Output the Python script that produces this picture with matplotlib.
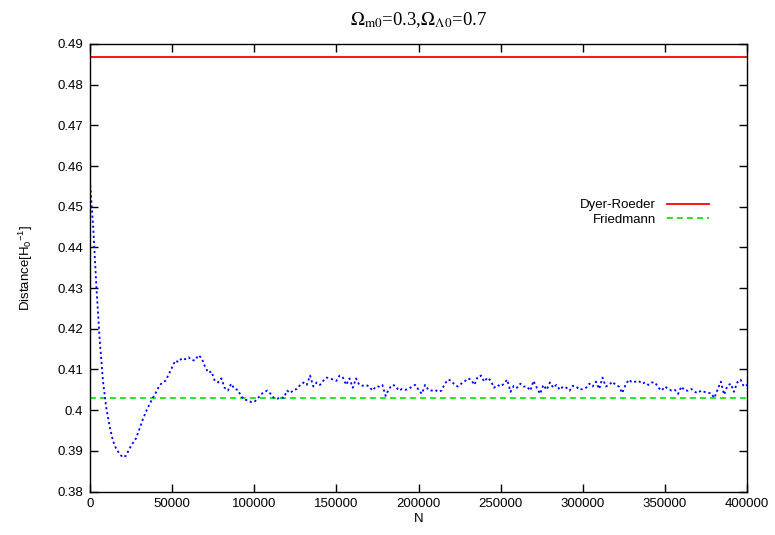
import matplotlib
matplotlib.use("Agg")
import matplotlib.pyplot as plt
import numpy as np

# ---- data ----
n_step = 2000
distance = [
    0.4565, 0.4450, 0.4300, 0.4170, 0.4070, 0.4005, 0.3960, 0.3925, 0.3905, 0.3893,
    0.3884, 0.3888, 0.3905, 0.3918, 0.3930, 0.3952, 0.3975, 0.3995, 0.4012, 0.4028,
    0.4042, 0.4058, 0.4068, 0.4072, 0.4088, 0.4105, 0.4122, 0.4118, 0.4128, 0.4125,
    0.4130, 0.4123, 0.4122, 0.4135, 0.4128, 0.4108, 0.4092, 0.4095, 0.4072, 0.4068,
    0.4078, 0.4055, 0.4048, 0.4065, 0.4052, 0.4050, 0.4035, 0.4025, 0.4025, 0.4020,
    0.4020, 0.4028, 0.4038, 0.4045, 0.4048, 0.4040, 0.4030, 0.4028, 0.4032, 0.4030,
    0.4048, 0.4042, 0.4050, 0.4052, 0.4062, 0.4068, 0.4062, 0.4085, 0.4058, 0.4068,
    0.4062, 0.4072, 0.4080, 0.4078, 0.4075, 0.4072, 0.4085, 0.4080, 0.4062, 0.4078,
    0.4055, 0.4078, 0.4062, 0.4060, 0.4062, 0.4058, 0.4048, 0.4058, 0.4058, 0.4062,
    0.4035, 0.4052, 0.4062, 0.4060, 0.4048, 0.4052, 0.4050, 0.4052, 0.4058, 0.4062,
    0.4050, 0.4040, 0.4062, 0.4050, 0.4048, 0.4050, 0.4045, 0.4048, 0.4065, 0.4075,
    0.4072, 0.4062, 0.4058, 0.4065, 0.4070, 0.4078, 0.4075, 0.4062, 0.4082, 0.4085,
    0.4070, 0.4080, 0.4072, 0.4055, 0.4062, 0.4058, 0.4065, 0.4075, 0.4045, 0.4060,
    0.4055, 0.4065, 0.4058, 0.4058, 0.4048, 0.4072, 0.4055, 0.4040, 0.4062, 0.4050,
    0.4068, 0.4055, 0.4062, 0.4050, 0.4058, 0.4055, 0.4048, 0.4060, 0.4058, 0.4050,
    0.4052, 0.4055, 0.4065, 0.4058, 0.4070, 0.4052, 0.4080, 0.4058, 0.4062, 0.4070,
    0.4062, 0.4058, 0.4042, 0.4062, 0.4075, 0.4068, 0.4070, 0.4072, 0.4065, 0.4068,
    0.4062, 0.4068, 0.4068, 0.4055, 0.4048, 0.4058, 0.4052, 0.4048, 0.4050, 0.4040,
    0.4058, 0.4048, 0.4048, 0.4052, 0.4045, 0.4042, 0.4048, 0.4045, 0.4042, 0.4042,
    0.4030, 0.4050, 0.4070, 0.4038, 0.4060, 0.4065, 0.4045, 0.4068, 0.4075, 0.4058,
    0.4062,
]
n_values = [i * n_step for i in range(len(distance))]
dyer_roeder = 0.4867
friedmann = 0.4031

x_ticks = [0, 50000, 100000, 150000, 200000, 250000, 300000, 350000, 400000]
y_ticks = [0.38, 0.39, 0.40, 0.41, 0.42, 0.43, 0.44, 0.45, 0.46, 0.47, 0.48, 0.49]
y_tick_labels = ["0.38", "0.39", "0.4", "0.41", "0.42", "0.43", "0.44", "0.45",
                 "0.46", "0.47", "0.48", "0.49"]

# ---- style ----
plt.rcParams['font.family'] = ['Liberation Sans', 'DejaVu Sans']
plt.rcParams['mathtext.fontset'] = 'custom'
plt.rcParams['mathtext.rm'] = 'Liberation Sans'
plt.rcParams['mathtext.it'] = 'Liberation Sans'

fig = plt.figure(figsize=(7.75, 5.35), dpi=100)
ax = fig.add_axes([0.116, 0.0813, 0.848, 0.8365])

ax.axhline(dyer_roeder, color='#ff0000', lw=1.3, label='Dyer-Roeder')
ax.axhline(friedmann, color='#00e000', lw=1.2, ls=(0, (3.5, 2.5)), label='Friedmann')
ax.plot(n_values, distance, color='#0000ff', lw=1.3, ls=(0, (1.2, 1.6)))

ax.set_xlim(0, 400000)
ax.set_ylim(0.38, 0.49)
ax.set_xticks(x_ticks)
ax.set_xticklabels([str(v) for v in x_ticks])
ax.set_yticks(y_ticks)
ax.set_yticklabels(y_tick_labels)
ax.tick_params(direction='in', length=6, width=1, top=True, right=True,
               labelsize=9.5, pad=5)
for s in ax.spines.values():
    s.set_linewidth(1.0)

ax.set_xlabel('N', fontsize=9.5, labelpad=2)
ax.set_ylabel(r'Distance[H$_0$$^{-1}$]', fontsize=9.5, labelpad=16)

fig.text(0.54, 0.962, r'$\Omega_{\mathrm{m0}}$=0.3,$\Omega_{\Lambda 0}$=0.7',
         ha='center', va='center', fontsize=13.5, family='Liberation Serif',
         math_fontfamily='stix')

leg = ax.legend(loc='upper right', bbox_to_anchor=(0.96, 0.68), frameon=False,
                markerfirst=False, fontsize=9.5, handlelength=3.2,
                handletextpad=0.8, labelspacing=0.15)

fig.savefig('out.png', dpi=100)
